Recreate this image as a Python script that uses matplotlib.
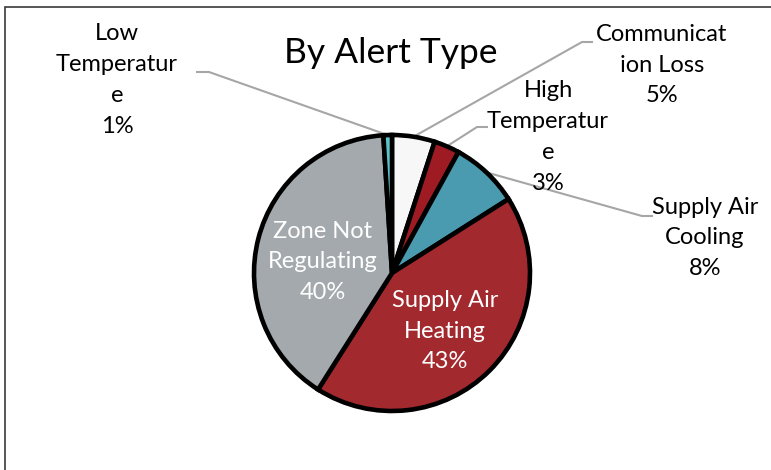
import numpy as np
import matplotlib.pyplot as plt
from matplotlib.patches import Rectangle

plt.rcParams['font.family'] = ['Lato', 'DejaVu Sans']

# slice data, clockwise from 12 o'clock
labels = ['Communicat\nion Loss', 'High\nTemperatur\ne', 'Supply Air\nCooling',
          'Supply Air\nHeating', 'Zone Not\nRegulating', 'Low\nTemperatur\ne']
values = [5, 3, 8, 43, 40, 1]
colors = ['#f7f7f7', '#9e1b24', '#4a9bb0', '#a2292e', '#a3a9ac', '#5cc3c9']

W, H = 771, 470
fig = plt.figure(figsize=(W / 100, H / 100), dpi=100)
ax = fig.add_axes([0, 0, 1, 1])

# chart frame (left/top edges visible)
ax.add_patch(Rectangle((5, -20), W + 40, H - 7 + 20, fill=False,
                       edgecolor='#3a3a3a', lw=1.2))

cx, cy, r = 392, H - 273, 138
wedges, _ = ax.pie(values, colors=colors, startangle=90, counterclock=False,
                   center=(cx, cy), radius=r, frame=True,
                   wedgeprops=dict(edgecolor='black', linewidth=3.3))
ax.set_xlim(0, W)
ax.set_ylim(0, H)
ax.set_aspect('equal')
ax.axis('off')

ax.text(391, H - 53, 'By Alert Type', ha='center', va='center', fontsize=25.5)

# label positions (pixel coords, y from top) and leader elbow points
label_pos = {
    0: (662, 65),
    1: (548, 137),
    2: (705, 238),
    3: (445, 331),
    4: (323, 262),
    5: (117, 80),
}
elbows = {
    0: [(592, 42), (582, 42)],
    1: [(487, 127), (477, 127)],
    2: [(652, 216), (642, 216)],
    5: [(197, 72), (209, 72)],
}

for i, (lab, v) in enumerate(zip(labels, values)):
    x, y = label_pos[i]
    inside = i in (3, 4)
    ax.text(x, H - y, f'{lab}\n{v}%', ha='center', va='center', fontsize=17,
            linespacing=1.57, color='white' if inside else 'black')
    if i in elbows:
        w = wedges[i]
        ang = np.deg2rad((w.theta1 + w.theta2) / 2)
        ex, ey = cx + r * np.cos(ang), cy + r * np.sin(ang)
        pts = elbows[i]
        xs = [pts[0][0], pts[1][0], ex]
        ys = [H - pts[0][1], H - pts[1][1], ey]
        ax.plot(xs, ys, color='#a6a6a6', lw=1.5, zorder=0.5)

fig.savefig('out.png', dpi=100)
